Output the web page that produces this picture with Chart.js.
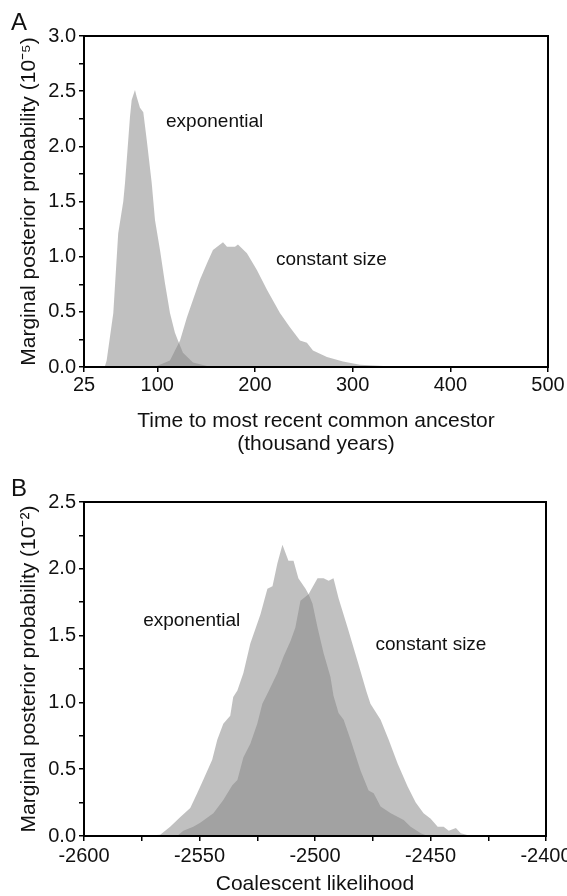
<!DOCTYPE html>
<html>
<head>
<meta charset="utf-8">
<script src="https://cdn.jsdelivr.net/npm/chart.js@4"></script>
<style>
  html, body { margin: 0; padding: 0; background: #fff; }
  body { width: 567px; height: 896px; position: relative; overflow: hidden; }
  canvas { position: absolute; left: 0; }
</style>
</head>
<body>
<canvas id="chartA" width="567" height="456" style="top:0"></canvas>
<canvas id="chartB" width="567" height="440" style="top:456px"></canvas>
<script>
// panel A: time to MRCA (thousand years)
const aExpX = [30, 44, 46.5, 48.2, 55, 60, 65.2, 67, 72.1, 73.8, 77.2, 78.9, 82.3, 85.7, 89.2, 94.3, 97.7, 102.8, 107.9, 113, 118.1, 121.2, 126.3, 136.6, 150.9, 170, 200];
const aExpY = [0, 0, 0.01, 0.06, 0.49, 1.21, 1.5, 1.67, 2.27, 2.42, 2.51, 2.45, 2.35, 2.31, 2.06, 1.67, 1.33, 1.06, 0.76, 0.49, 0.31, 0.24, 0.13, 0.04, 0.01, 0, 0];
const aConstX = [90, 99.7, 113, 123.3, 130.4, 136.6, 143.7, 150.9, 157, 167.3, 171.4, 179.6, 182.6, 191.8, 202, 212.3, 225.6, 235.8, 246.1, 253.2, 259.4, 273.7, 290.1, 307.5, 341.3, 400, 460];
const aConstY = [0, 0.01, 0.06, 0.24, 0.45, 0.61, 0.79, 0.94, 1.06, 1.13, 1.09, 1.09, 1.11, 1.03, 0.88, 0.70, 0.49, 0.36, 0.24, 0.22, 0.15, 0.09, 0.05, 0.02, 0.005, 0.002, 0];
const aXTicks = [25, 100, 200, 300, 400, 500];

// panel B: coalescent likelihood
const bExpX = [-2590, -2574.4, -2567, -2562.7, -2558.4, -2554, -2551, -2548.4, -2544.5, -2542.3, -2539.7, -2536.7, -2535.4, -2533.6, -2531, -2528, -2523.6, -2520.6, -2518.4, -2516.3, -2514.1, -2511.5, -2509.3, -2507.2, -2504.1, -2502.8, -2501.1, -2498.9, -2496.3, -2493.3, -2492, -2489.8, -2487.6, -2484.6, -2480.3, -2476.8, -2474.6, -2471.6, -2467.2, -2461.6, -2458.6, -2454.2, -2451.2];
const bExpY = [0, 0, 0.01, 0.07, 0.14, 0.21, 0.32, 0.42, 0.57, 0.72, 0.84, 0.90, 1.04, 1.09, 1.22, 1.44, 1.66, 1.85, 1.87, 2.04, 2.18, 2.06, 2.06, 1.93, 1.85, 1.81, 1.74, 1.56, 1.37, 1.19, 1.05, 0.92, 0.87, 0.72, 0.49, 0.34, 0.32, 0.22, 0.17, 0.12, 0.07, 0.02, 0];
const bConstX = [-2575, -2559.7, -2557, -2552.7, -2549.7, -2544, -2539.7, -2535.8, -2533.6, -2531, -2528, -2525, -2522.8, -2520.2, -2516.3, -2513.7, -2510.6, -2508.5, -2506.3, -2502.8, -2498.9, -2496.3, -2494.1, -2492, -2489.8, -2485.9, -2481.6, -2477.7, -2476, -2471.6, -2468.1, -2464.2, -2459.9, -2456.4, -2453, -2449.9, -2446.9, -2444.3, -2442.1, -2439, -2436.9, -2432.5, -2420];
const bConstY = [0, 0, 0.04, 0.07, 0.10, 0.17, 0.27, 0.38, 0.42, 0.59, 0.69, 0.84, 0.99, 1.08, 1.22, 1.34, 1.46, 1.56, 1.76, 1.81, 1.93, 1.93, 1.91, 1.93, 1.78, 1.56, 1.31, 1.08, 0.99, 0.87, 0.72, 0.54, 0.37, 0.25, 0.17, 0.13, 0.07, 0.07, 0.04, 0.06, 0.02, 0, 0];

const fillGrey = 'rgba(135,135,135,0.52)';
const FONT = '"Liberation Sans", Arial, Helvetica, sans-serif';

function pts(xs, ys) { return xs.map((x, i) => ({ x: x, y: ys[i] })); }
function area(label, xs, ys) {
  return { label: label, data: pts(xs, ys), fill: 'origin', backgroundColor: fillGrey,
           borderWidth: 0, pointRadius: 0, tension: 0 };
}

// frame, panel letter and curve labels
const decor = {
  id: 'decor',
  afterDraw(chart, args, opts) {
    const c = chart.ctx, a = chart.chartArea;
    c.save();
    c.strokeStyle = '#000';
    c.lineWidth = 2;
    c.strokeRect(a.left, a.top, a.right - a.left, a.bottom - a.top);
    c.fillStyle = '#111';
    c.font = '24px ' + FONT;
    c.textBaseline = 'alphabetic';
    c.fillText(opts.panel, 11, opts.panelY);
    c.font = '19px ' + FONT;
    c.textBaseline = 'middle';
    opts.notes.forEach(n => {
      c.fillText(n.text, chart.scales.x.getPixelForValue(n.x), chart.scales.y.getPixelForValue(n.y));
    });
    c.restore();
  }
};

const halfStep = v => Math.abs(v * 2 - Math.round(v * 2)) < 1e-6;

function makeChart(id, cfg) {
  return new Chart(document.getElementById(id), {
    type: 'line',
    data: { datasets: cfg.datasets },
    plugins: [decor],
    options: {
      responsive: false,
      animation: false,
      layout: { padding: { left: 0, top: cfg.top, right: cfg.right, bottom: 0 } },
      plugins: { legend: { display: false }, tooltip: { enabled: false }, decor: cfg.decor },
      scales: {
        x: {
          type: 'linear', min: cfg.xMin, max: cfg.xMax,
          afterBuildTicks: cfg.xTicks ? (s => { s.ticks = cfg.xTicks.map(v => ({ value: v })); }) : undefined,
          ticks: { stepSize: cfg.xStep, autoSkip: false, maxRotation: 0, color: '#111', padding: cfg.xPad,
                   font: { family: FONT, size: 20 }, callback: cfg.xLabel },
          grid: { drawOnChartArea: false, tickLength: 5, color: '#000', lineWidth: 1.5 },
          border: { display: false },
          title: { display: true, text: cfg.xTitle, color: '#111', padding: { top: 0, bottom: 0 },
                   font: { family: FONT, size: 21, lineHeight: 1.1 } },
          afterFit: s => { s.height = cfg.xHeight; s.paddingRight = 0; }
        },
        y: {
          min: 0, max: cfg.yMax,
          ticks: { stepSize: 0.25, autoSkip: false, color: '#111', padding: 3,
                   font: { family: FONT, size: 20 },
                   callback: v => halfStep(v) ? v.toFixed(1) : '' },
          grid: { drawOnChartArea: false, tickLength: 5, color: '#000', lineWidth: 1.5 },
          border: { display: false },
          title: { display: true, text: cfg.yTitle, color: '#111', padding: { top: 17.5, bottom: 0 },
                   font: { family: FONT, size: 21, lineHeight: 1.1 } },
          afterFit: s => { s.width = 84; }
        }
      }
    }
  });
}

makeChart('chartA', {
  datasets: [area('exponential', aExpX, aExpY), area('constant size', aConstX, aConstY)],
  top: 36, right: 19, xMin: 25, xMax: 500, xTicks: aXTicks, xPad: 1, xHeight: 89,
  xLabel: v => String(v),
  xTitle: ['Time to most recent common ancestor', '(thousand years)'],
  yMax: 3, yTitle: 'Marginal posterior probability (10\u207B\u2075)',
  decor: { panel: 'A', panelY: 30, notes: [
    { text: 'exponential', x: 109, y: 2.22 },
    { text: 'constant size', x: 221.5, y: 0.97 }
  ] }
});

makeChart('chartB', {
  datasets: [area('exponential', bExpX, bExpY), area('constant size', bConstX, bConstY)],
  top: 46, right: 21, xMin: -2600, xMax: -2400, xStep: 25, xPad: 3, xHeight: 60,
  xLabel: v => (v % 50 === 0 ? String(v) : ''),
  xTitle: 'Coalescent likelihood',
  yMax: 2.5, yTitle: 'Marginal posterior probability (10\u207B\u00B2)',
  decor: { panel: 'B', panelY: 40, notes: [
    { text: 'exponential', x: -2574.4, y: 1.61 },
    { text: 'constant size', x: -2473.8, y: 1.43 }
  ] }
});
</script>
</body>
</html>
